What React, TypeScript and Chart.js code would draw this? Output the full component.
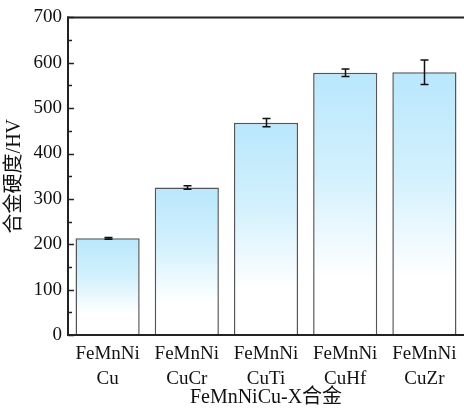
import React, { useEffect, useRef } from "react";
import { Chart, registerables } from "chart.js";

Chart.register(...registerables);

const categories: string[][] = [
  ["FeMnNi", "Cu"],
  ["FeMnNi", "CuCr"],
  ["FeMnNi", "CuTi"],
  ["FeMnNi", "CuHf"],
  ["FeMnNi", "CuZr"],
];
const hardness: number[] = [213, 325, 468, 578, 579];
const hardnessErr: number[] = [2, 4, 9, 8, 27];
const yMajorTicks: number[] = [0, 100, 200, 300, 400, 500, 600, 700];
const yMinorTicks: number[] = [50, 150, 250, 350, 450, 550, 650];
const xTitle = "FeMnNiCu-X合金";
const yTitle = "合金硬度/HV";

const FONT = "'Liberation Serif', 'Times New Roman', 'Noto Sans CJK SC', serif";

const decorPlugin = {
  id: "decor",
  afterDatasetsDraw(chart: any) {
    const { ctx, chartArea, scales } = chart;
    const y = scales.y;
    const x = scales.x;
    ctx.save();
    ctx.strokeStyle = "#222";
    ctx.lineWidth = 2;
    // top frame line
    ctx.beginPath();
    ctx.moveTo(chartArea.left - 1, chartArea.top);
    ctx.lineTo(chart.width, chartArea.top);
    ctx.stroke();
    // bottom axis line over bars
    ctx.beginPath();
    ctx.moveTo(chartArea.left - 1, chartArea.bottom);
    ctx.lineTo(chart.width, chartArea.bottom);
    ctx.stroke();
    // left axis line
    ctx.beginPath();
    ctx.moveTo(chartArea.left, chartArea.top - 1);
    ctx.lineTo(chartArea.left, chartArea.bottom + 1);
    ctx.stroke();
    // inward ticks
    ctx.lineWidth = 1.5;
    yMajorTicks.forEach((v) => {
      const py = Math.round(y.getPixelForValue(v)) + 0.5;
      ctx.beginPath();
      ctx.moveTo(chartArea.left, py);
      ctx.lineTo(chartArea.left + 6, py);
      ctx.stroke();
    });
    yMinorTicks.forEach((v) => {
      const py = Math.round(y.getPixelForValue(v)) + 0.5;
      ctx.beginPath();
      ctx.moveTo(chartArea.left, py);
      ctx.lineTo(chartArea.left + 4, py);
      ctx.stroke();
    });
    // error bars
    ctx.strokeStyle = "#111";
    ctx.lineWidth = 1.5;
    hardness.forEach((v, i) => {
      const px = Math.round(x.getPixelForValue(i)) + 0.5;
      const top = y.getPixelForValue(v + hardnessErr[i]);
      const bot = y.getPixelForValue(v - hardnessErr[i]);
      ctx.beginPath();
      ctx.moveTo(px, top);
      ctx.lineTo(px, bot);
      ctx.moveTo(px - 4, top);
      ctx.lineTo(px + 4, top);
      ctx.moveTo(px - 4, bot);
      ctx.lineTo(px + 4, bot);
      ctx.stroke();
    });
    ctx.restore();
  },
};

export default function App() {
  const ref = useRef<HTMLCanvasElement | null>(null);
  useEffect(() => {
    if (!ref.current) return;
    const chart = new Chart(ref.current, {
      type: "bar",
      data: {
        labels: categories,
        datasets: [
          {
            data: hardness,
            backgroundColor: (c: any) => {
              const ch = c.chart;
              const ys = ch.scales && ch.scales.y;
              if (!ys || c.raw == null) return "#c5ecfc";
              const t = ys.getPixelForValue(c.raw);
              const b = ys.getPixelForValue(0);
              if (!isFinite(t) || !isFinite(b) || t === b) return "#c5ecfc";
              const g = ch.ctx.createLinearGradient(0, t, 0, b);
              g.addColorStop(0, "#b9e7fc");
              g.addColorStop(0.4, "#d3f1fd");
              g.addColorStop(0.78, "#ffffff");
              g.addColorStop(1, "#ffffff");
              return g;
            },
            borderColor: "#555",
            borderWidth: 1.5,
            barPercentage: 0.81,
            categoryPercentage: 1,
          },
        ],
      },
      options: {
        responsive: false,
        animation: false,
        layout: { padding: { top: 15, right: 0, left: 0, bottom: 0 } },
        plugins: {
          legend: { display: false },
          tooltip: { enabled: false },
        },
        scales: {
          x: {
            grid: { display: false, drawTicks: false },
            border: { display: false },
            ticks: {
              color: "#111",
              font: { family: FONT, size: 19, lineHeight: 1.3 },
              padding: 7,
              maxRotation: 0,
              autoSkip: false,
            },
            title: {
              display: true,
              text: xTitle,
              color: "#111",
              font: { family: FONT, size: 20, lineHeight: 1.2 },
              padding: { top: 0, bottom: 2 },
            },
            afterFit: (s: any) => {
              s.height = 77;
            },
          },
          y: {
            min: 0,
            max: 700,
            grid: { display: false, drawTicks: false },
            border: { display: false },
            ticks: {
              stepSize: 100,
              color: "#111",
              font: { family: FONT, size: 19 },
              padding: 6,
            },
            title: {
              display: true,
              text: yTitle,
              color: "#111",
              font: { family: FONT, size: 20, lineHeight: 1.2 },
              padding: { top: 3, bottom: 0 },
            },
            afterFit: (s: any) => {
              s.width = 68;
            },
          },
        },
      },
      plugins: [decorPlugin],
    });
    return () => chart.destroy();
  }, []);
  return (
    <div style={{ position: "fixed", left: 0, top: 0, width: 464, height: 412, background: "#fff" }}>
      <canvas ref={ref} width={464} height={412} />
    </div>
  );
}
